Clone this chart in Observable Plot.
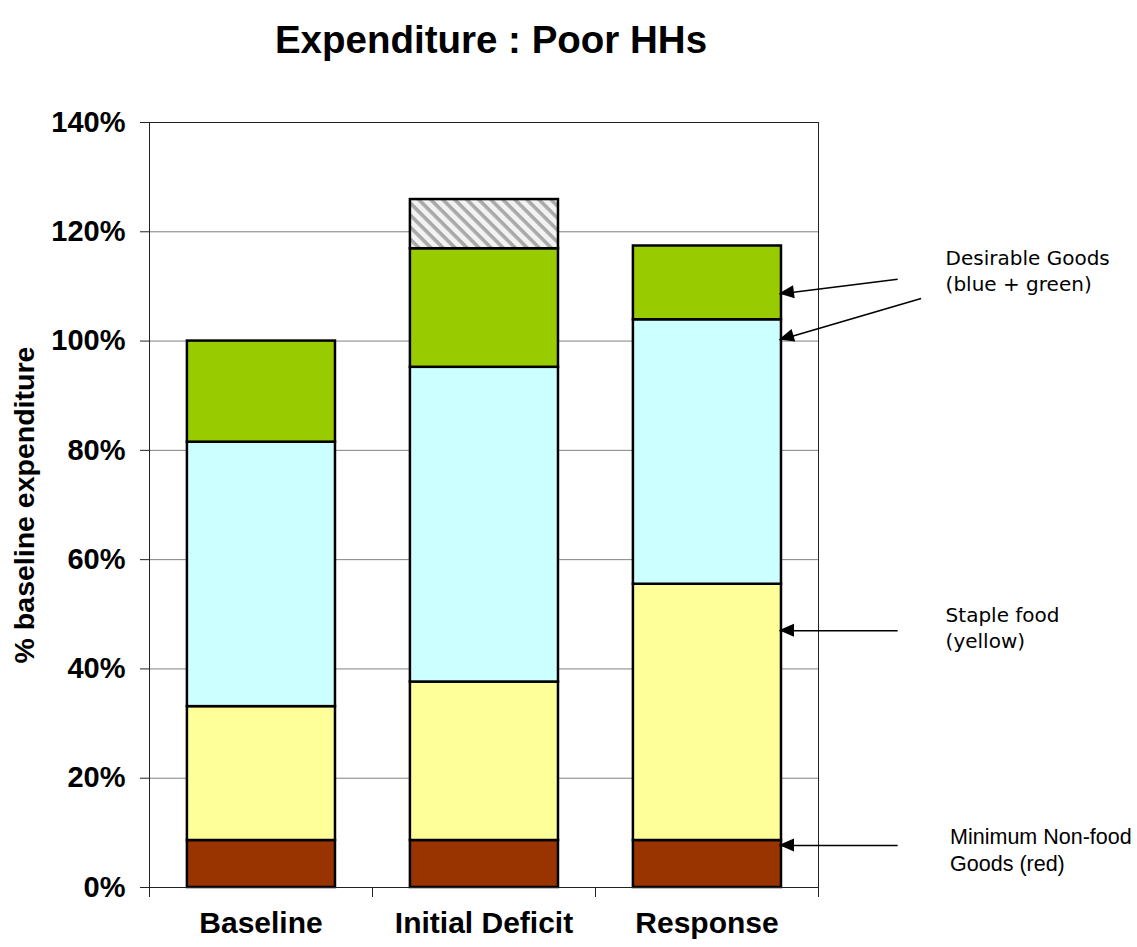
<!DOCTYPE html>
<html>
<head>
<meta charset="utf-8">
<script src="https://cdn.jsdelivr.net/npm/d3@7"></script>
<script src="https://cdn.jsdelivr.net/npm/@observablehq/plot@0.6"></script>
<style>
  html, body { margin: 0; padding: 0; background: #fff; }
</style>
</head>
<body>
<div id="chart"></div>
<script>
// Household expenditure of poor HHs, as % of baseline expenditure
const title = "Expenditure : Poor HHs";
const yLabel = "% baseline expenditure";
const categories = ["Baseline", "Initial Deficit", "Response"];
const minNonFood = [8.6, 8.6, 8.6];      // red
const stapleFood = [24.5, 29.0, 46.9];   // yellow
const blueGoods  = [48.4, 57.6, 48.4];   // blue
const greenGoods = [18.5, 21.7, 13.5];   // green
const deficit    = [0, 9.0, 0];          // hatched
const yTicks = [0, 20, 40, 60, 80, 100, 120, 140];

const segmentFills = ["#993300", "#FFFF99", "#CCFFFF", "#99CC00", "url(#hatch-deficit)"];
const segmentSeries = [minNonFood, stapleFood, blueGoods, greenGoods, deficit];

// Callout notes on the right-hand side
const notes = [
  {x: 3.57, y: 117.3, text: "Desirable Goods\n(blue + green)", font: "DejaVu Sans"},
  {x: 3.57, y: 52.0, text: "Staple food\n(yellow)", font: "DejaVu Sans"},
  {x: 3.59, y: 11.4, text: "Minimum Non-food\nGoods (red)", font: "Liberation Sans"}
];
const arrows = [
  {x1: 3.355, y1: 111.3, x2: 2.825, y2: 108.6},
  {x1: 3.46, y1: 107.8, x2: 2.825, y2: 100.2},
  {x1: 3.355, y1: 47.0, x2: 2.825, y2: 47.0},
  {x1: 3.355, y1: 7.7, x2: 2.825, y2: 7.7}
];

// Stack the segments per category
const bars = [];
categories.forEach((cat, i) => {
  let base = 0;
  segmentSeries.forEach((series, s) => {
    const v = series[i];
    if (v > 0) {
      bars.push({cat, x1: i + 0.17, x2: i + 0.834, y1: base, y2: base + v, fill: segmentFills[s]});
    }
    base += v;
  });
});

// Hatch pattern definition for the deficit segment
function hatchDefs() {
  const svg = d3.create("svg:g");
  const defs = svg.append("defs");
  const p = defs.append("pattern")
    .attr("id", "hatch-deficit")
    .attr("patternUnits", "userSpaceOnUse")
    .attr("width", 8.5).attr("height", 8.5)
    .attr("patternTransform", "rotate(-45)");
  p.append("rect").attr("width", 8.5).attr("height", 8.5).attr("fill", "#f2f2f2");
  p.append("line").attr("x1", 2).attr("y1", 0).attr("x2", 2).attr("y2", 8.5)
    .attr("stroke", "#a8a8a8").attr("stroke-width", 3.5);
  return svg.node();
}

// Filled arrowheads at the tips of the callout lines
function arrowHeads(index, scales) {
  const g = d3.create("svg:g").attr("fill", "black");
  for (const a of arrows) {
    const sx = scales.x(a.x1), sy = scales.y(a.y1);
    const tx = scales.x(a.x2), ty = scales.y(a.y2);
    const ang = Math.atan2(sy - ty, sx - tx);
    const len = 15, half = 6.5;
    const bx = tx + len * Math.cos(ang), by = ty + len * Math.sin(ang);
    const px = -Math.sin(ang) * half, py = Math.cos(ang) * half;
    g.append("path").attr("d",
      `M${tx},${ty}L${bx + px},${by + py}L${bx - px},${by - py}Z`);
  }
  return g.node();
}

const chart = Plot.plot({
  width: 1137,
  height: 947,
  marginLeft: 149,
  marginRight: 319,
  marginTop: 122,
  marginBottom: 60,
  style: {fontFamily: "Liberation Sans, Arial, sans-serif", background: "#fff", color: "#000"},
  x: {type: "linear", domain: [0, 3], axis: null},
  y: {domain: [0, 140], axis: null},
  marks: [
    hatchDefs,
    Plot.ruleY([20, 40, 60, 80, 100, 120], {stroke: "#808080", strokeWidth: 1, strokeOpacity: 1}),
    Plot.rect(bars, {x1: "x1", x2: "x2", y1: "y1", y2: "y2", fill: "fill", stroke: "black", strokeWidth: 2.5}),
    Plot.frame({stroke: "#222", strokeWidth: 1}),
    Plot.axisY({ticks: yTicks, tickFormat: d => d + "%", tickSize: 9, tickPadding: 15,
      fontSize: 29, fontWeight: "bold", label: null, stroke: "#222"}),
    Plot.axisX({ticks: [0, 1, 2, 3], tickFormat: () => "", tickSize: 10, label: null, stroke: "#222"}),
    Plot.text(categories, {x: (d, i) => i + 0.5, y: 0, dy: 36, text: d => d,
      fontSize: 30, fontWeight: "bold", fill: "black"}),
    Plot.text([yLabel], {frameAnchor: "left", textAnchor: "middle", dx: -125, rotate: -90, text: d => d,
      fontSize: 28.5, fontWeight: "bold", fill: "black"}),
    Plot.text([title], {frameAnchor: "top", dx: 7, dy: -97, text: d => d,
      fontSize: 38.5, fontWeight: "bold", fill: "black"}),
    Plot.link(arrows, {x1: "x1", y1: "y1", x2: "x2", y2: "y2", stroke: "black", strokeWidth: 1.6}),
    arrowHeads,
    Plot.text(notes.filter(n => n.font === "DejaVu Sans"), {x: "x", y: "y", text: "text",
      textAnchor: "start", lineAnchor: "top", lineHeight: 1.3, fontSize: 20,
      fontFamily: "DejaVu Sans", fill: "black"}),
    Plot.text(notes.filter(n => n.font === "Liberation Sans"), {x: "x", y: "y", text: "text",
      textAnchor: "start", lineAnchor: "top", lineHeight: 1.25, fontSize: 21.5,
      fontFamily: "Liberation Sans", fill: "black"})
  ]
});

document.getElementById("chart").appendChild(chart);
</script>
</body>
</html>
